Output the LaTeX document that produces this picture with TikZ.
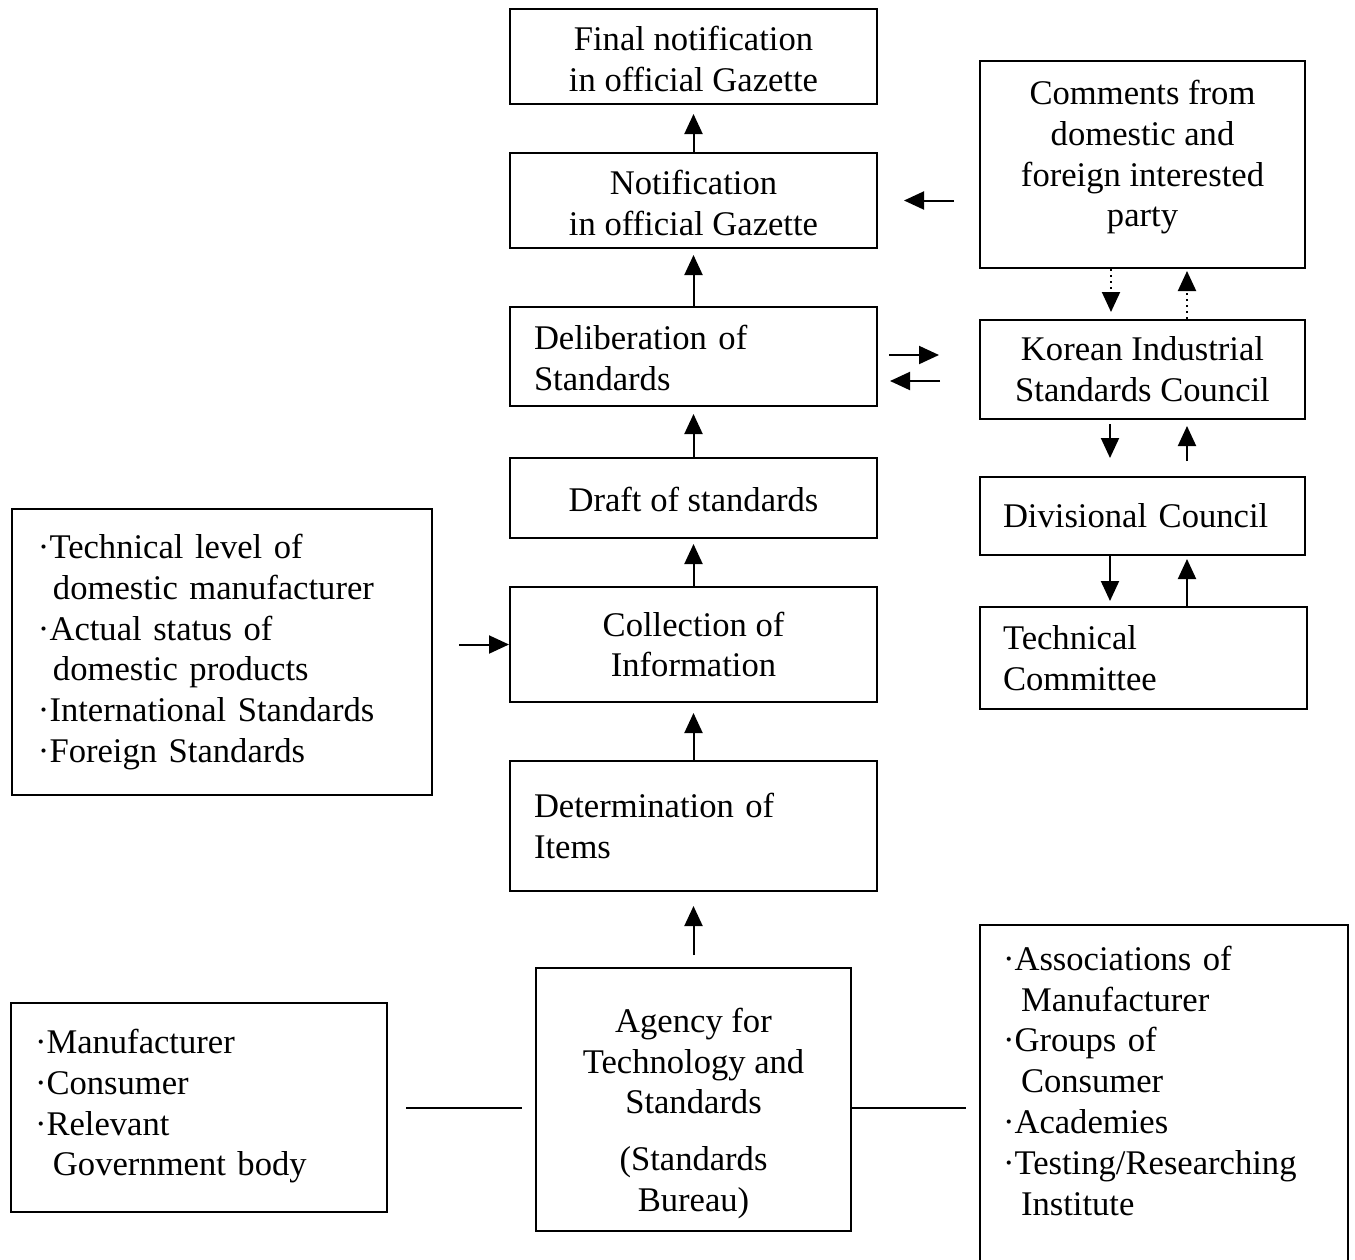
\documentclass[tikz,border=0pt]{standalone}
\usepackage{fontspec}
\setmainfont{Liberation Serif}
\usepackage{tikz}
\usetikzlibrary{arrows.meta}

\begin{document}
\begin{tikzpicture}[
                x = 0.5pt, y = -0.5pt,
                every node/.append style = {font = \fontsize{17.3}{20.4}\selectfont},
                stage/.style = {draw, line width = 1pt, inner sep = 0pt, minimum width = 183.5pt, align = center},
                council/.style = {draw, line width = 1pt, inner sep = 0pt, minimum width = 162.5pt, align = center},
                lefttext/.style = {align = left, inner xsep = #1, text width = 183.5pt - 2*#1},
                listbox/.style = {draw, line width = 1pt, inner ysep = 0pt, align = left},
                flow/.style = {line width = 1pt, -{Triangle[length = 10pt, width = 9pt]}},
                link/.style = {line width = 1pt}]
                \useasboundingbox (0,0) rectangle (1355,1259);
                \node[stage, minimum height = 47.5pt] (final) at (693.5,56.5) {\rule{0pt}{15pt}Final notification\\in official Gazette};
                \node[stage, minimum height = 47.5pt] (notif) at (693.5,200.5) {\rule{0pt}{15pt}Notification\\in official Gazette};
                \node[stage, lefttext = 12pt, minimum height = 49.5pt] (delib) at (693.5,356.5) {\rule{0pt}{14pt}Deliberation of\\Standards};
                \node[stage, minimum height = 40pt] (draft) at (693.5,498) {\rule{0pt}{14pt}Draft of standards};
                \node[stage, minimum height = 57.5pt] (coll) at (693.5,644.5) {Collection of\\Information};
                \node[stage, lefttext = 12pt, minimum height = 65pt] (determ) at (693.5,826) {Determination of\\Items};
                \node[stage, minimum width = 157.5pt, minimum height = 131.5pt] (agency) at (693.5,1099.5)
                    {\rule{0pt}{26pt}Agency for\\Technology and\\Standards\\[8pt](Standards\\Bureau)};
                \node[council, minimum height = 103.5pt] (comments) at (1142.5,164.5)
                    {Comments from\\domestic and\\foreign interested\\party\rule[-11pt]{0pt}{11pt}};
                \node[council, minimum height = 49.5pt] (kisc) at (1142.5,369.5) {Korean Industrial\\Standards Council};
                \node[council, minimum height = 39pt, align = left, inner xsep = 11.5pt, text width = 139.5pt] (div) at (1142.5,516) {Divisional Council};
                \node[council, minimum height = 51pt, align = left, inner xsep = 11.5pt, text width = 140.5pt] (tc) at (1143.5,658) {Technical\\Committee};
                \node[listbox, inner xsep = 13pt, text width = 184pt, minimum height = 143pt] (info) at (222,652)
                    {·Technical level of\\\hspace*{7.5pt}domestic manufacturer\\·Actual status of\\\hspace*{7.5pt}domestic products\\·International Standards\\·Foreign Standards};
                \node[listbox, inner xsep = 12pt, text width = 164pt, minimum height = 104.5pt] (parties) at (199,1107.5)
                    {·Manufacturer\\·Consumer\\·Relevant\\\hspace*{9pt}Government body\rule[-5pt]{0pt}{5pt}};
                \node[listbox, inner xsep = 11.5pt, text width = 161pt, minimum height = 168.5pt] (groups) at (1164,1093.5)
                    {·Associations of\\\hspace*{9pt}Manufacturer\\·Groups of\\\hspace*{9pt}Consumer\\·Academies\\·Testing/Researching\\\hspace*{9pt}Institute\rule[-13pt]{0pt}{13pt}};
                \draw[flow, shorten >= 4.5pt] (notif) -- (final);
                \draw[flow, shorten >= 3pt] (delib) -- (notif);
                \draw[flow, shorten >= 3.5pt] (draft) -- (delib);
                \draw[flow, shorten >= 2.5pt] (coll) -- (draft);
                \draw[flow, shorten >= 5pt] (determ) -- (coll);
                \draw[flow, shorten <= 6pt, shorten >= 7pt] (agency) -- (determ);
                \draw[flow, shorten <= 13pt] (info.east |- coll.west) -- (coll.west);
                \draw[flow, shorten <= 12.5pt, shorten >= 13pt] (comments.west |- notif.east) -- (notif.east);
                \coordinate (kin) at ([yshift = 7.25pt]kisc.west);
                \coordinate (kout) at ([yshift = -5.75pt]kisc.west);
                \draw[flow, shorten <= 5.5pt, shorten >= 20pt] (delib.east |- kin) -- (kin);
                \draw[flow, shorten <= 19.5pt, shorten >= 6pt] (kout) -- (delib.east |- kout);
                \draw[flow, dotted, shorten >= 3.5pt] ([xshift = -15.75pt]comments.south) -- ([xshift = -15.75pt]kisc.north);
                \draw[flow, dotted, shorten >= 1pt] ([xshift = 22.25pt]kisc.north) -- ([xshift = 22.25pt]comments.south);
                \draw[flow, shorten <= 2pt, shorten >= 9pt] ([xshift = -16.25pt]kisc.south) -- ([xshift = -16.25pt]div.north);
                \draw[flow, shorten <= 7.5pt, shorten >= 3pt] ([xshift = 22.25pt]div.north) -- ([xshift = 22.25pt]kisc.south);
                \draw[flow, shorten >= 2.5pt] ([xshift = -16.25pt]div.south) -- ([xshift = -16.75pt]tc.north);
                \draw[flow, shorten >= 1.5pt] ([xshift = 21.75pt]tc.north) -- ([xshift = 22.25pt]div.south);
                \draw[link, shorten <= 9pt, shorten >= 6.5pt] (parties.east) -- (agency.west |- parties.east);
                \draw[link, shorten >= 6.5pt] (agency.east |- parties.east) -- (groups.west |- parties.east);
\end{tikzpicture}
\end{document}
